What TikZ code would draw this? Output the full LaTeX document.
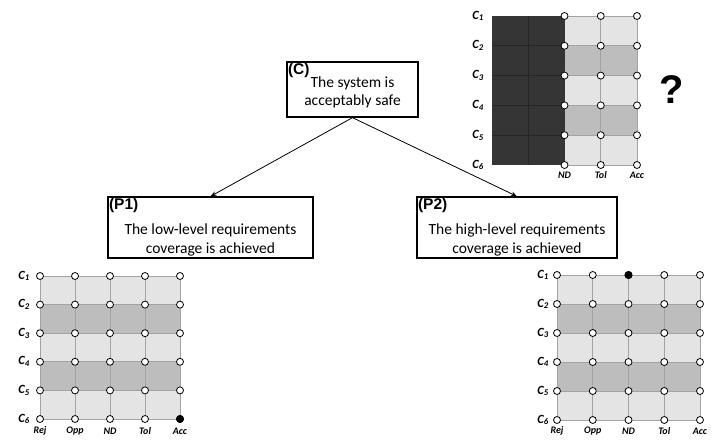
\documentclass[tikz,border=0pt]{standalone}
\usepackage{fontspec}
\setmainfont{Carlito}
\newfontfamily\arialfont{Liberation Sans}
\usetikzlibrary{positioning, arrows.meta}

\definecolor{cellA}{HTML}{E4E4E4}
\definecolor{cellB}{HTML}{BDBDBD}
\definecolor{cellDark}{HTML}{353535}
\definecolor{gridLine}{HTML}{A3A3A3}

\begin{document}
\begin{tikzpicture}[x=1pt, y=-1pt,
    every node/.style={font=\fontsize{15.5}{18.5}\selectfont},
    goal/.style={rectangle, draw, line width=1.3pt, align=center, inner sep=2pt},
    tag/.style={anchor=north west, inner sep=1.5pt, font=\arialfont\bfseries\fontsize{15.5}{15.5}\selectfont},
    arrow/.style={-{Stealth[length=6pt, width=4.5pt]}, line width=0.8pt},
    dot/.style={circle, draw, fill=white, line width=0.8pt, inner sep=0pt, minimum size=7pt},
    hit/.style={dot, fill=black},
    rowlab/.style={anchor=east, inner sep=0pt, font=\bfseries\itshape\fontsize{12.5}{12.5}\selectfont},
    collab/.style={inner sep=0pt, font=\bfseries\itshape\fontsize{10}{10}\selectfont},
    grid line/.style={draw=gridLine, line width=0.9pt}]

  \useasboundingbox (0,0) rectangle (720,446);

  % goal structure
  \node[goal, minimum width=131pt, minimum height=55pt] (claim) at (352.5,89.5) {\strut\\[-14.5pt]The system is\\acceptably safe};
  \node[tag] (claim-tag) at (claim.north west) {(C)};
  \node[goal, minimum width=205pt, minimum height=61pt] (prem1) at (210.5,227.5) {\strut\\[4pt]The low-level requirements\\coverage is achieved};
  \node[tag] (prem1-tag) at (prem1.north west) {(P1)};
  \node[goal, minimum width=200pt, minimum height=61pt] (prem2) at (517,227.5) {\strut\\[4pt]The high-level requirements\\coverage is achieved};
  \node[tag] (prem2-tag) at (prem2.north west) {(P2)};

  \draw[arrow] (claim.south) -- (prem1.north);
  \draw[arrow] (claim.south) -- (prem2.north);

  % top right grid: Rej and Opp ruled out
  \begin{scope}[shift={(492,16)}]
    \fill[cellDark] (0,0) rectangle (72.5,149);
    \fill[cellA] (72.5,0) rectangle (145,149);
    \fill[cellB] (72.5,29.8) rectangle (145,59.6);
    \fill[cellB] (72.5,89.4) rectangle (145,119.2);
    \foreach \j in {0,...,5}
      \draw[grid line] (72.5,\j*29.8) -- (145,\j*29.8);
    \foreach \i in {3,4}
      \draw[grid line] (\i*36.25,0) -- (\i*36.25,149);
    \foreach \j in {1,...,4}
      \draw[black!85, line width=0.8pt] (0,\j*29.8) -- (72.5,\j*29.8);
    \draw[black!85, line width=0.8pt] (36.25,0) -- (36.25,149);
    \foreach \j in {0,...,5} {
      \pgfmathtruncatemacro{\k}{\j+1}
      \node[rowlab] (T-c\k) at (-8,\j*29.8) {C\textsubscript{\k}};
      \foreach \i in {2,3,4}
        \node[dot] (T-\i-\k) at (\i*36.25,\j*29.8) {};
    }
    \node[collab] (T-nd) at (72.5,159) {ND};
    \node[collab] (T-tol) at (108.75,159) {Tol};
    \node[collab] (T-acc) at (145,159) {Acc};
  \end{scope}
  \node[font=\arialfont\bfseries\fontsize{40}{40}\selectfont] (query) at (672,90) {?};

  % bottom left grid (P1)
  \begin{scope}[shift={(40,276)}]
    \fill[cellA] (0,0) rectangle (140,143);
    \fill[cellB] (0,28.6) rectangle (140,57.2);
    \fill[cellB] (0,85.8) rectangle (140,114.4);
    \foreach \i in {0,...,4}
      \draw[grid line] (\i*35,0) -- (\i*35,143);
    \foreach \j in {0,...,5}
      \draw[grid line] (0,\j*28.6) -- (140,\j*28.6);
    \foreach \j in {0,...,5} {
      \pgfmathtruncatemacro{\k}{\j+1}
      \node[rowlab] (L-c\k) at (-10,\j*28.6) {C\textsubscript{\k}};
      \foreach \i in {0,...,4}
        \node[dot] (L-\i-\k) at (\i*35,\j*28.6) {};
    }
    \node[hit] (L-hit) at (140,143) {};
    \foreach \n [count=\i from 0] in {Rej,Opp,ND,Tol,Acc}
      \node[collab] (L-\n) at (\i*35,155) {\n};
  \end{scope}

  % bottom right grid (P2)
  \begin{scope}[shift={(557,275)}]
    \fill[cellA] (0,0) rectangle (143,145);
    \fill[cellB] (0,29) rectangle (143,58);
    \fill[cellB] (0,87) rectangle (143,116);
    \foreach \i in {0,...,4}
      \draw[grid line] (\i*35.75,0) -- (\i*35.75,145);
    \foreach \j in {0,...,5}
      \draw[grid line] (0,\j*29) -- (143,\j*29);
    \foreach \j in {0,...,5} {
      \pgfmathtruncatemacro{\k}{\j+1}
      \node[rowlab] (R-c\k) at (-8,\j*29) {C\textsubscript{\k}};
      \foreach \i in {0,...,4}
        \node[dot] (R-\i-\k) at (\i*35.75,\j*29) {};
    }
    \node[hit] (R-hit) at (71.5,0) {};
    \foreach \n [count=\i from 0] in {Rej,Opp,ND,Tol,Acc}
      \node[collab] (R-\n) at (\i*35.75,156) {\n};
  \end{scope}
\end{tikzpicture}
\end{document}
